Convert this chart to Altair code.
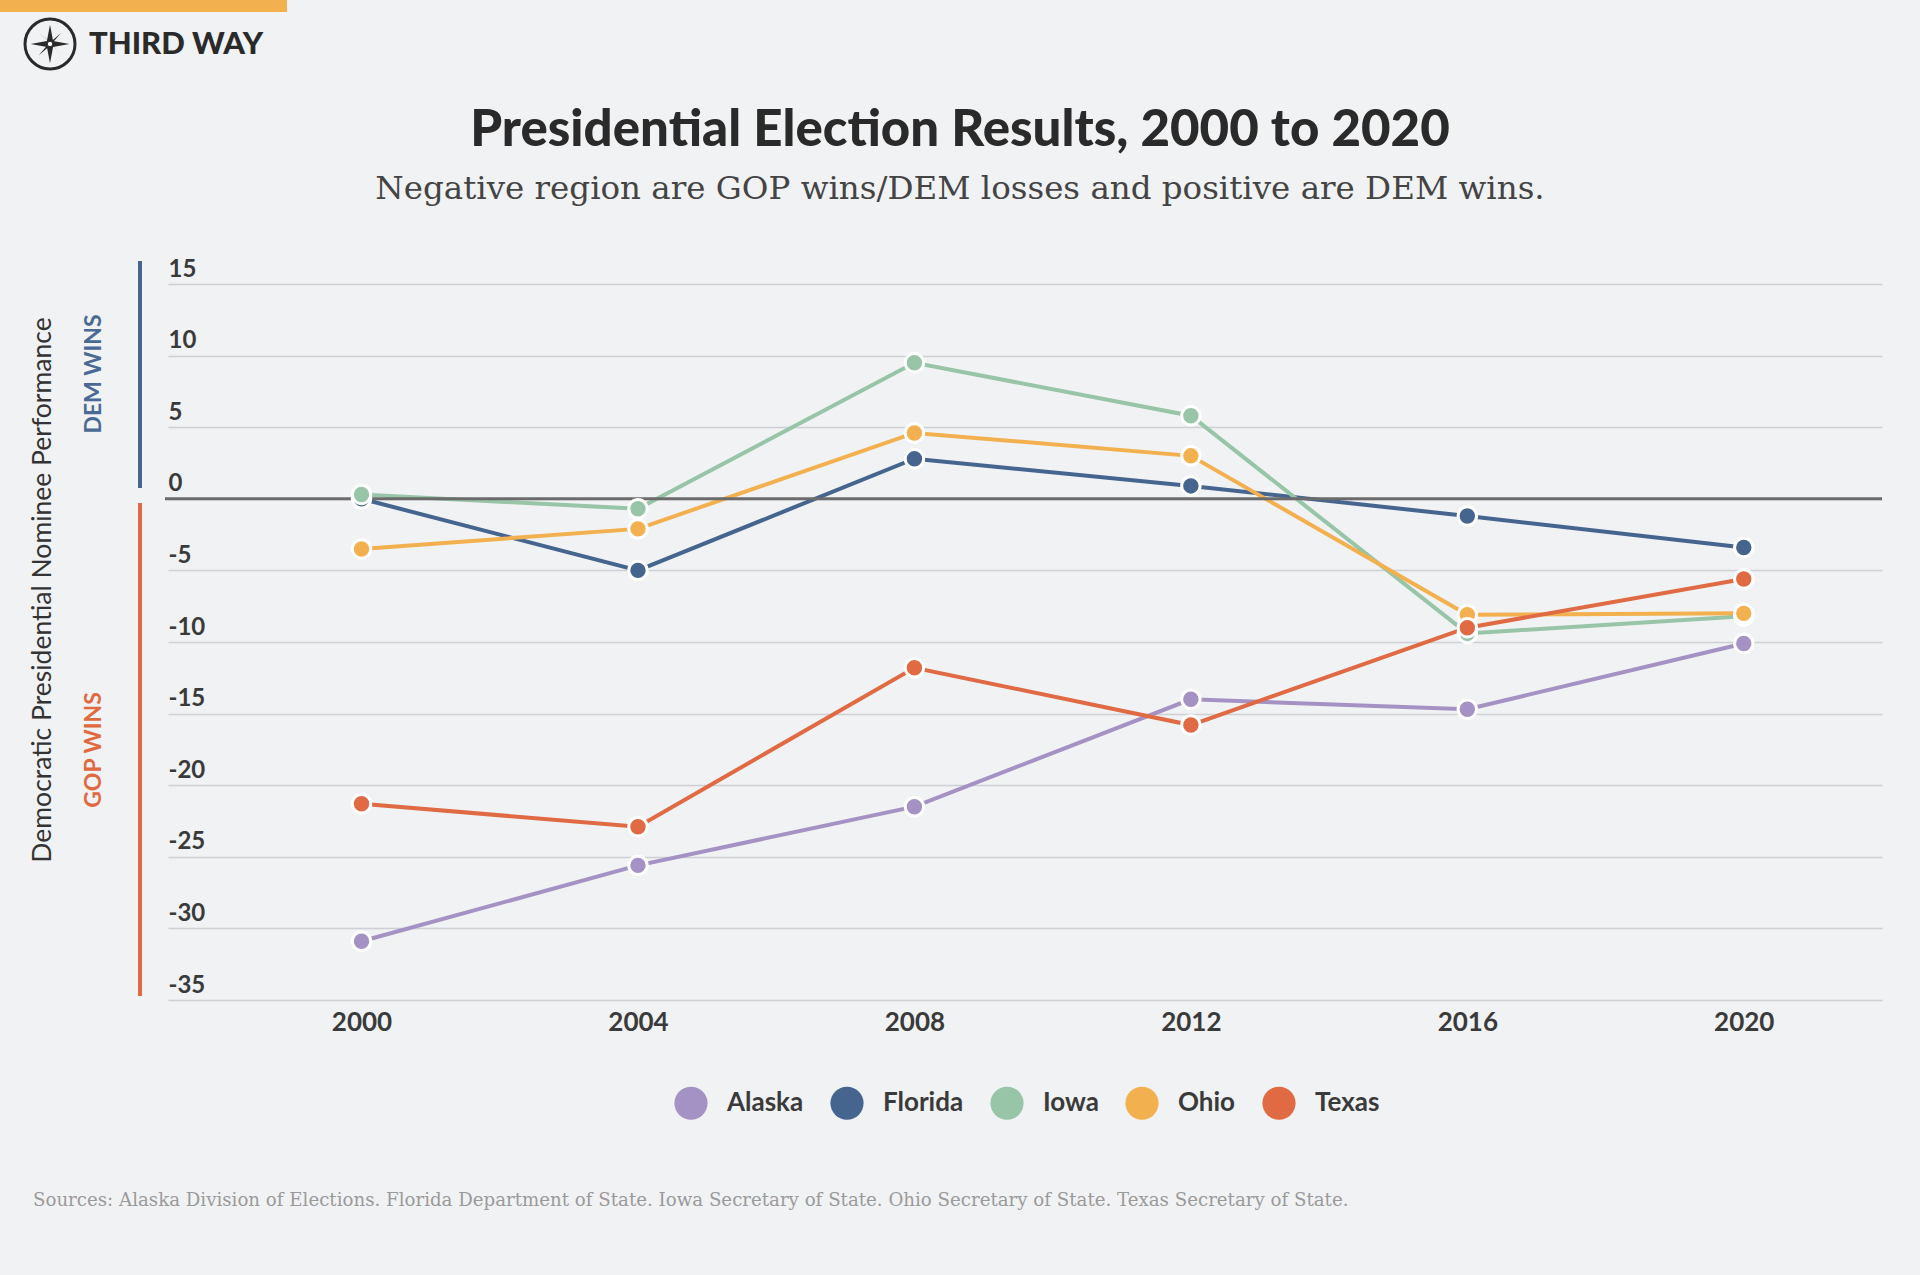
import altair as alt
import pandas as pd

# ---------------- data ----------------
years = [2000, 2004, 2008, 2012, 2016, 2020]
states = ["Alaska", "Florida", "Iowa", "Ohio", "Texas"]
alaska = [-30.9, -25.6, -21.5, -14.0, -14.7, -10.1]
florida = [0.0, -5.0, 2.8, 0.9, -1.2, -3.4]
iowa = [0.3, -0.7, 9.5, 5.8, -9.4, -8.2]
ohio = [-3.5, -2.1, 4.6, 3.0, -8.1, -8.0]
texas = [-21.3, -22.9, -11.8, -15.8, -9.0, -5.6]
state_colors = ["#a592c4", "#45658f", "#98c4a8", "#f2b04e", "#e06a43"]
y_ticks = [15, 10, 5, 0, -5, -10, -15, -20, -25, -30, -35]

title_text = "Presidential Election Results, 2000 to 2020"
subtitle_text = "Negative region are GOP wins/DEM losses and positive are DEM wins."
ytitle_text = "Democratic Presidential Nominee Performance"
source_text = ("Sources: Alaska Division of Elections. Florida Department of State. "
               "Iowa Secretary of State. Ohio Secretary of State. Texas Secretary of State.")
brand_text = "THIRD WAY"

series = {"Alaska": alaska, "Florida": florida, "Iowa": iowa, "Ohio": ohio, "Texas": texas}
rows = []
for st in states:
    for yr, v in zip(years, series[st]):
        rows.append({"state": st, "year": yr, "value": v})
df = pd.DataFrame(rows)

# ---------------- layout ----------------
W, H = 1714, 716
OX, OY = 168, 284  # plot origin on the page

FONT = "Lato"
BG = "#f1f2f4"

xscale = alt.Scale(domain=[1997.2, 2022.0], nice=False, zero=False)
yscale = alt.Scale(domain=[-35, 15], nice=False, zero=False)
cscale = alt.Scale(domain=states, range=state_colors)

xaxis = alt.Axis(values=years, format="d", grid=False, ticks=False, tickSize=0, domain=False,
                 labelFont=FONT, labelFontWeight="bold", labelFontSize=26, labelColor="#3a3a3a",
                 labelPadding=9, labelFlush=False, title=None)
yaxis = alt.Axis(values=y_ticks, grid=True, gridColor="#cfd0d3", gridWidth=1.5,
                 ticks=False, tickSize=0, domain=False, labelAlign="left",
                 labelBaseline="alphabetic", labelPadding=0, labelOffset=-8,
                 labelExpr="toString(datum.value)", labelOverlap=False, labelBound=False,
                 labelFlush=False,
                 labelFont=FONT, labelFontWeight="bold", labelFontSize=24,
                 labelColor="#3a3a3a", title=None)

legend = alt.Legend(
    orient="none", legendX=506, legendY=802, direction="horizontal", title=None,
    symbolType="circle", symbolSize=1100, symbolStrokeWidth=0, symbolOpacity=1,
    labelFont=FONT, labelFontWeight="bold", labelFontSize=26, labelColor="#3a3a3a",
    labelOffset=19, columnPadding=26)

base = alt.Chart(df)

lines = base.mark_line(strokeWidth=4).encode(
    x=alt.X("year:Q", scale=xscale, axis=xaxis),
    y=alt.Y("value:Q", scale=yscale, axis=yaxis),
    color=alt.Color("state:N", scale=cscale, legend=legend),
    detail="state:N",
)

points = base.mark_circle(size=340, opacity=1, stroke="white", strokeWidth=3).encode(
    x=alt.X("year:Q", scale=xscale),
    y=alt.Y("value:Q", scale=yscale),
    color=alt.Color("state:N", scale=cscale, legend=legend),
)

one = pd.DataFrame({"v": [0]})

zero_rule = alt.Chart(one).mark_rule(color="#6b6b6b", strokeWidth=3).encode(
    y=alt.Y("v:Q", scale=yscale), x=alt.value(-3), x2=alt.value(W)
)

# colored side bars
dem_bar = alt.Chart(one).mark_rule(color="#45658f", strokeWidth=4).encode(
    x=alt.value(140 - OX), y=alt.value(261 - OY), y2=alt.value(488 - OY))
gop_bar = alt.Chart(one).mark_rule(color="#e06a43", strokeWidth=4).encode(
    x=alt.value(140 - OX), y=alt.value(503 - OY), y2=alt.value(996 - OY))

# top orange band
band = alt.Chart(one).mark_rect(color="#f3b04f").encode(
    x=alt.value(-OX), x2=alt.value(287 - OX), y=alt.value(-OY), y2=alt.value(12 - OY))

# compass logo
ring = alt.Chart(one).mark_point(shape="circle", filled=False, stroke="#2a2a2a",
                                 strokeWidth=3, size=2500, opacity=1).encode(
    x=alt.value(50 - OX), y=alt.value(44 - OY))
star_path = "M0,-1L0.16,-0.16L1,0L0.16,0.16L0,1L-0.16,0.16L-1,0L-0.16,-0.16Z"
star = alt.Chart(one).mark_point(shape=star_path, filled=True, fill="#2a2a2a",
                                 strokeWidth=0, size=1500, opacity=1).encode(
    x=alt.value(50 - OX), y=alt.value(44 - OY))
star2 = alt.Chart(one).mark_point(shape="M-1,-1L0.15,0L1,1L0,-0.15Z M1,-1L0,0.15L-1,1L-0.15,0Z",
                                  filled=True, fill="#2a2a2a", strokeWidth=0, size=500,
                                  opacity=1).encode(
    x=alt.value(50 - OX), y=alt.value(44 - OY))
hub = alt.Chart(one).mark_point(shape="circle", filled=True, fill="white", stroke="#2a2a2a",
                                strokeWidth=1, size=30, opacity=1).encode(
    x=alt.value(50 - OX), y=alt.value(44 - OY))


def text_layer(txt, x, y, size, color, weight="normal", font=FONT, angle=0,
               align="center", baseline="middle"):
    return alt.Chart(pd.DataFrame({"t": [txt]})).mark_text(
        fontSize=size, color=color, fontWeight=weight, font=font, angle=angle,
        align=align, baseline=baseline).encode(
        text="t:N", x=alt.value(x - OX), y=alt.value(y - OY))


brand = text_layer(brand_text, 89, 45, 31, "#2a2a2a", weight=900, align="left")
title = text_layer(title_text, 960, 131, 51, "#2a2a2a", weight=900)
subtitle = text_layer(subtitle_text, 960, 189, 32.5, "#444444", font="DejaVu Serif")
ytitle = text_layer(ytitle_text, 43, 590, 26.5, "#333333", angle=270)
dem = text_layer("DEM WINS", 94, 374, 23, "#4a6a95", weight="bold", angle=270)
gop = text_layer("GOP WINS", 94, 750, 23, "#e0693f", weight="bold", angle=270)
source = text_layer(source_text, 33, 1201, 18.2, "#9a9a9a", font="DejaVu Serif", align="left")

chart = alt.layer(
    band, ring, star2, star, hub, brand, title, subtitle, ytitle, dem, gop, source,
    dem_bar, gop_bar, lines, zero_rule, points
).properties(
    width=W, height=H,
    padding={"left": OX, "top": OY, "right": 1920 - OX - W, "bottom": 1275 - OY - H},
    autosize=alt.AutoSizeParams(type="none"),
    background=BG,
).configure_view(stroke=None).resolve_scale(color="shared")

chart.save("out.html", embed_options={"renderer": "svg", "actions": False})
